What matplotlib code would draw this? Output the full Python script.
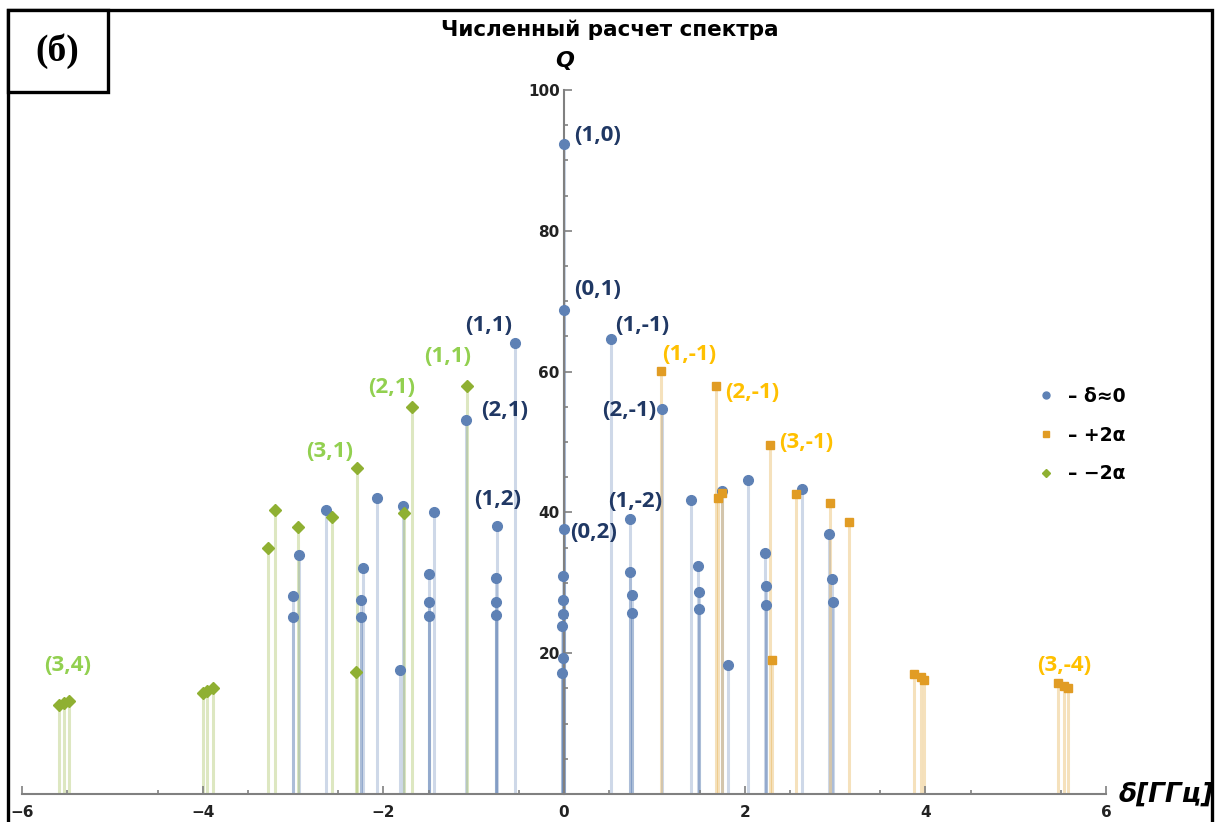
import matplotlib
matplotlib.use('Agg')
import matplotlib.pyplot as plt
from matplotlib.patches import Rectangle
from matplotlib.lines import Line2D

# ---------------- data ----------------
# delta ~ 0 (blue circles)
blue_x = [0.0, 0.0, 0.0, -0.01, -0.01, -0.01, -0.02, -0.01, -0.02,
          -0.54, 0.52, -1.09, 1.09, -0.74, -0.75, -0.75, -0.75, 0.73, 0.73, 0.75, 0.75,
          -2.07, -1.78, -1.44, -2.64, -2.93, -3.0, -3.0, -2.22, -2.25, -2.25, -1.5, -1.5, -1.5, -1.82,
          1.41, 1.75, 2.04, 2.63, 2.93, 2.97, 2.98, 1.48, 1.49, 1.49, 2.22, 2.24, 2.24, 1.82]
blue_q = [92.3, 68.7, 37.6, 31.0, 27.6, 25.5, 23.9, 19.3, 17.2,
          64.0, 64.7, 53.1, 54.7, 38.1, 30.7, 27.3, 25.4, 39.0, 31.6, 28.2, 25.7,
          42.1, 40.9, 40.1, 40.4, 33.9, 28.1, 25.1, 32.1, 27.6, 25.1, 31.3, 27.3, 25.3, 17.6,
          41.7, 43.0, 44.6, 43.3, 36.9, 30.6, 27.3, 32.4, 28.7, 26.3, 34.3, 29.6, 26.9, 18.3]

# +2 alpha (orange squares)
orange_x = [1.07, 1.68, 2.28, 1.71, 1.75, 2.57, 2.95, 3.16, 2.30, 3.88, 3.95, 3.98, 5.47, 5.53, 5.58]
orange_q = [60.1, 57.9, 49.6, 42.1, 42.7, 42.6, 41.3, 38.7, 19.0, 17.0, 16.6, 16.2, 15.8, 15.3, 15.0]

# -2 alpha (green diamonds)
green_x = [-1.07, -1.68, -2.29, -3.2, -3.28, -2.95, -2.57, -1.77, -2.3, -4.0, -3.95, -3.89, -5.59, -5.53, -5.48]
green_q = [58.0, 55.0, 46.3, 40.4, 34.9, 37.9, 39.4, 39.9, 17.4, 14.3, 14.6, 15.0, 12.7, 12.9, 13.2]

# mode labels (text, x, Q)
blue_labels = [('(1,0)', 0.37, 93.6), ('(0,1)', 0.37, 71.6), ('(1,1)', -0.83, 66.6),
               ('(1,-1)', 0.87, 66.6), ('(2,1)', -0.66, 54.5), ('(2,-1)', 0.72, 54.5),
               ('(1,2)', -0.74, 41.8), ('(1,-2)', 0.79, 41.5), ('(0,2)', 0.33, 37.1)]
orange_labels = [('(1,-1)', 1.39, 62.4), ('(2,-1)', 2.08, 57.0), ('(3,-1)', 2.68, 49.9),
                 ('(3,-4)', 5.54, 18.3)]
green_labels = [('(1,1)', -1.29, 62.1), ('(2,1)', -1.91, 57.7), ('(3,1)', -2.59, 48.6),
                ('(3,4)', -5.49, 18.3)]

series_names = ['– δ≈0', '– +2α', '– −2α']

# ---------------- styles ----------------
C_BLUE, C_ORANGE, C_GREEN = '#5e81b5', '#e19c24', '#8fb032'
L_BLUE, L_ORANGE, L_GREEN = '#203864', '#ffc000', '#92d050'

fig = plt.figure(figsize=(12.19, 8.22), dpi=100)
ax = fig.add_axes([22 / 1219, 28 / 822, 1084 / 1219, 704 / 822])
ax.set_xlim(-6, 6)
ax.set_ylim(0, 100)

def stems(xs, qs, color, marker, ms):
    ax.vlines(xs, 0, qs, colors=color, alpha=0.3, lw=2.2, zorder=1)
    ax.plot(xs, qs, ls='none', marker=marker, color=color, ms=ms, mec=color,
            clip_on=False, zorder=3)

stems(blue_x, blue_q, C_BLUE, 'o', 7)
stems(orange_x, orange_q, C_ORANGE, 's', 5.2)
stems(green_x, green_q, C_GREEN, 'D', 5.8)

lblfont = dict(fontsize=16, fontweight='bold', family='Open Sans', ha='center', va='center')
for t, x, q in blue_labels:
    ax.text(x, q, t, color=L_BLUE, **lblfont)
for t, x, q in orange_labels:
    ax.text(x, q, t, color=L_ORANGE, **lblfont)
for t, x, q in green_labels:
    ax.text(x, q, t, color=L_GREEN, **lblfont)

# Mathematica-like axes crossing at origin
for s in ['top', 'right']:
    ax.spines[s].set_visible(False)
ax.spines['left'].set_position(('data', 0))
ax.spines['bottom'].set_position(('data', 0))
for s in ['left', 'bottom']:
    ax.spines[s].set_color('#808080')
    ax.spines[s].set_linewidth(1.5)
ax.set_xticks([-6, -4, -2, 0, 2, 4, 6])
ax.set_xticklabels(['−6', '−4', '−2', '0', '2', '4', '6'])
ax.set_xticks([x / 2 for x in range(-11, 12, 2)], minor=True)
ax.set_yticks([20, 40, 60, 80, 100])
ax.set_yticks(list(range(5, 100, 5)), minor=True)
ax.tick_params(which='both', direction='in', color='#808080', width=1.2)
ax.tick_params(which='major', length=6, labelsize=11)
ax.tick_params(which='minor', length=3)
ax.tick_params(axis='x', pad=8)
ax.tick_params(axis='y', pad=3)
for lab in ax.get_xticklabels() + ax.get_yticklabels():
    lab.set_fontweight('bold')
    lab.set_color('#222222')

# legend
handles = [Line2D([], [], ls='none', marker='o', color=C_BLUE, ms=5),
           Line2D([], [], ls='none', marker='s', color=C_ORANGE, ms=4),
           Line2D([], [], ls='none', marker='D', color=C_GREEN, ms=4.5)]
ax.legend(handles, series_names, loc='upper left', bbox_to_anchor=(1010 / 1219, 1 - 370 / 822),
          bbox_transform=fig.transFigure, frameon=False, handletextpad=0.2,
          labelspacing=1.05, prop=dict(size=13.5, weight='bold'))

# titles / axis names
fig.text(610 / 1219, 1 - 30 / 822, 'Численный расчет спектра', ha='center', va='center',
         fontsize=15.5, fontweight='bold', family='DejaVu Sans')
fig.text(565 / 1219, 1 - 61 / 822, 'Q', ha='center', va='center', fontsize=16,
         fontweight='bold', style='italic')
fig.text(1166 / 1219, 1 - 795 / 822, 'δ[ГГц]', ha='center', va='center', fontsize=19,
         fontweight='bold', style='italic')

# outer frame and panel tag
fig.patches.append(Rectangle((8 / 1219, -0.02), 1204 / 1219, 1.02 - 10 / 822, fill=False,
                             ec='black', lw=2.4, transform=fig.transFigure, figure=fig))
fig.patches.append(Rectangle((8 / 1219, 1 - 92 / 822), 100 / 1219, 82 / 822, fc='white',
                             ec='black', lw=2.4, transform=fig.transFigure, figure=fig))
fig.text(57 / 1219, 1 - 51 / 822, '(б)', ha='center', va='center', fontsize=27,
         fontweight='bold', family='Liberation Serif')

fig.savefig('out.png', dpi=100)
